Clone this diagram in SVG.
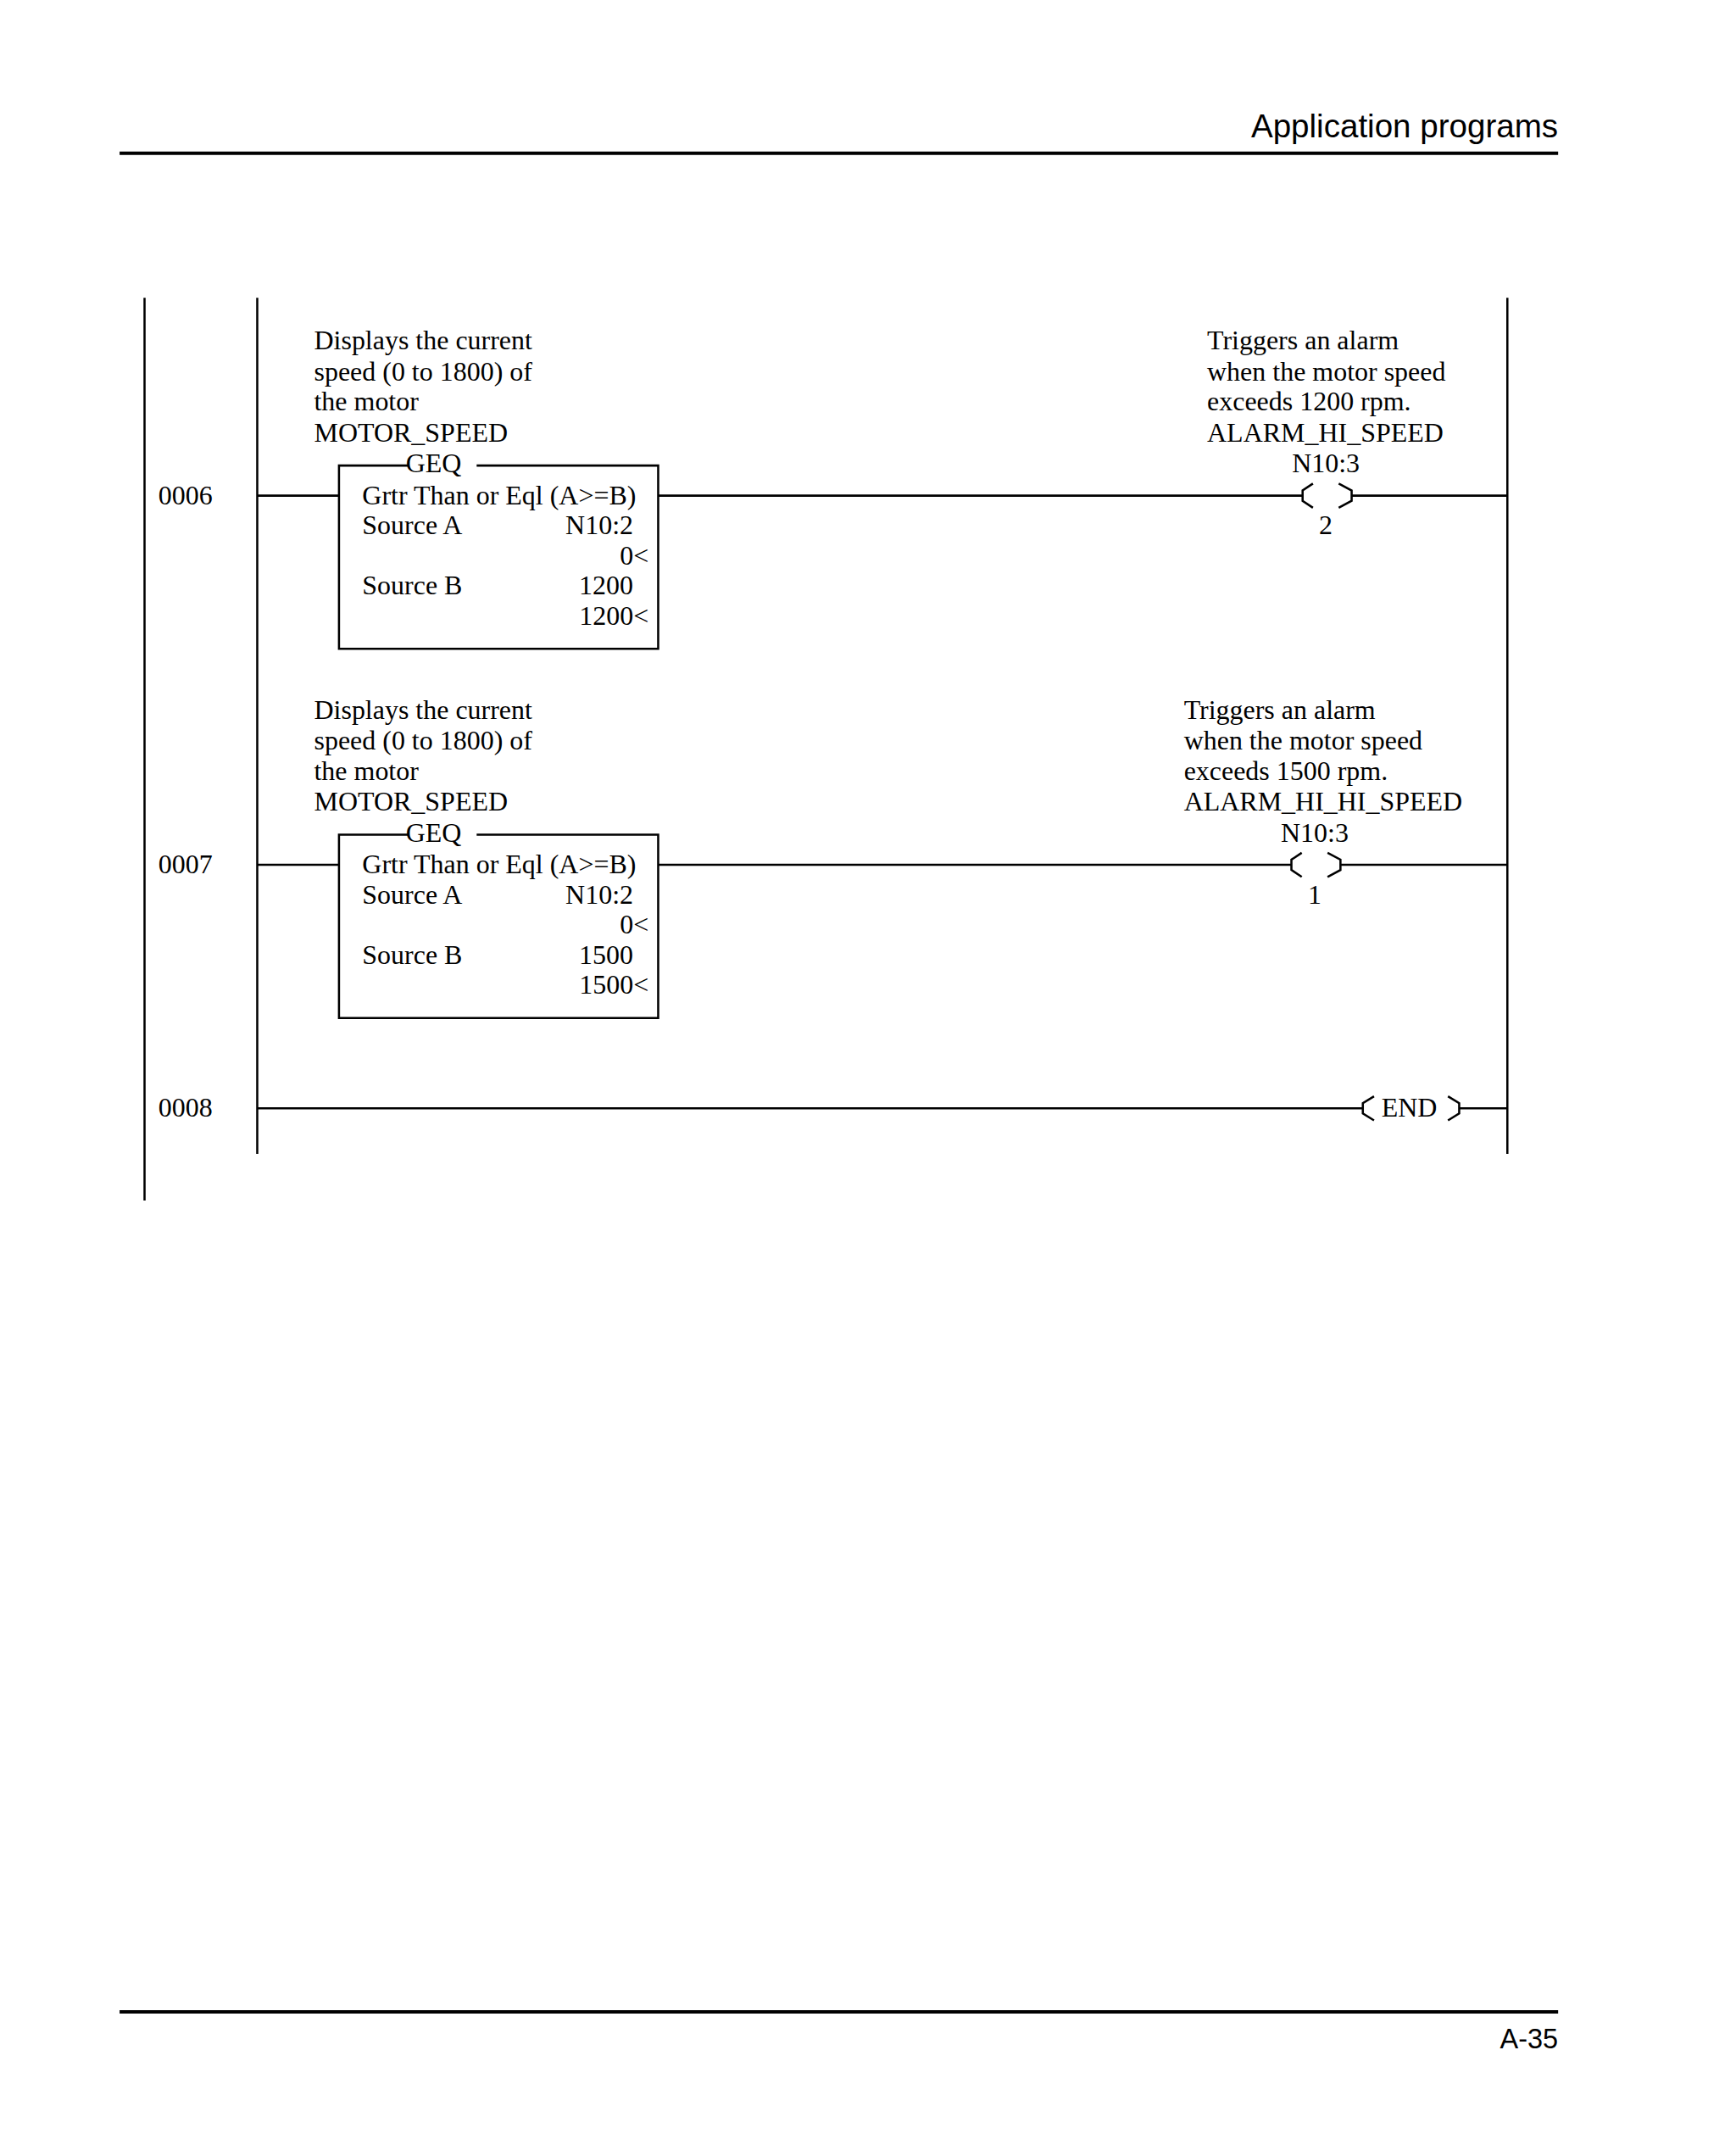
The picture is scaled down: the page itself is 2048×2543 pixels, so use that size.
<svg xmlns="http://www.w3.org/2000/svg" width="2048" height="2543" viewBox="0 0 2048 2543">
<style>
.h{font-family:"Liberation Sans",Arial,sans-serif;font-size:38px;fill:#000}
.t{font-family:"Liberation Serif","Times New Roman",serif;font-size:31.5px;fill:#000}
.m{text-anchor:middle}.e{text-anchor:end}
.w{stroke:#000;stroke-width:2.5;fill:none}
.r{stroke:#000;stroke-width:2.5;fill:none}
</style>
<rect width="2048" height="2543" fill="#fff"/>
<g transform="scale(1.015)">
<g id="header"><text class="h e" x="1811" y="160">Application programs</text><line x1="139" y1="178" x2="1811" y2="178" stroke="#000" stroke-width="4"/></g>
<g id="footer"><line x1="139" y1="2338" x2="1811" y2="2338" stroke="#000" stroke-width="4"/><text class="h e" x="1811" y="2380" style="font-size:32px">A-35</text></g>
<g id="rails"><line class="r" x1="168" y1="346" x2="168" y2="1395"/><line class="r" x1="299" y1="346" x2="299" y2="1341"/><line class="r" x1="1752" y1="346" x2="1752" y2="1341"/></g>
<g id="connectors">
<line class="w" x1="299" y1="576" x2="394" y2="576"/><line class="w" x1="765" y1="576" x2="1514" y2="576"/><line class="w" x1="1571" y1="576" x2="1752" y2="576"/>
<line class="w" x1="299" y1="1005" x2="394" y2="1005"/><line class="w" x1="765" y1="1005" x2="1501" y2="1005"/><line class="w" x1="1558" y1="1005" x2="1752" y2="1005"/>
<line class="w" x1="299" y1="1288" x2="1584" y2="1288"/><line class="w" x1="1696" y1="1288" x2="1752" y2="1288"/>
</g>
<g id="rung0006">
<text class="t" x="184" y="586">0006</text>
<text class="t" x="365" y="406">Displays the current</text><text class="t" x="365" y="442">speed (0 to 1800) of</text><text class="t" x="365" y="477">the motor</text><text class="t" x="365" y="513">MOTOR_SPEED</text>
<g id="geq1"><path class="w" d="M474,541 H394 V754 H765 V541 H554"/><text class="t m" x="504" y="549">GEQ</text>
<text class="t" x="421" y="586">Grtr Than or Eql (A&gt;=B)</text><text class="t" x="421" y="621">Source A</text><text class="t e" x="736" y="621">N10:2</text><text class="t e" x="754" y="656">0&lt;</text><text class="t" x="421" y="691">Source B</text><text class="t e" x="736" y="691">1200</text><text class="t e" x="754" y="726">1200&lt;</text></g>
<text class="t" x="1403" y="406">Triggers an alarm</text><text class="t" x="1403" y="442">when the motor speed</text><text class="t" x="1403" y="477">exceeds 1200 rpm.</text><text class="t" x="1403" y="513">ALARM_HI_SPEED</text>
<g id="coil1"><text class="t m" x="1541" y="549">N10:3</text><path class="w" d="M1526,562 L1514,570 V582 L1526,590 M1556,562 L1571,570 V582 L1556,590"/><text class="t m" x="1541" y="621">2</text></g>
</g>
<g id="rung0007">
<text class="t" x="184" y="1015">0007</text>
<text class="t" x="365" y="835">Displays the current</text><text class="t" x="365" y="871">speed (0 to 1800) of</text><text class="t" x="365" y="906">the motor</text><text class="t" x="365" y="942">MOTOR_SPEED</text>
<g id="geq2"><path class="w" d="M474,970 H394 V1183 H765 V970 H554"/><text class="t m" x="504" y="978">GEQ</text>
<text class="t" x="421" y="1015">Grtr Than or Eql (A&gt;=B)</text><text class="t" x="421" y="1050">Source A</text><text class="t e" x="736" y="1050">N10:2</text><text class="t e" x="754" y="1085">0&lt;</text><text class="t" x="421" y="1120">Source B</text><text class="t e" x="736" y="1120">1500</text><text class="t e" x="754" y="1155">1500&lt;</text></g>
<text class="t" x="1376" y="835">Triggers an alarm</text><text class="t" x="1376" y="871">when the motor speed</text><text class="t" x="1376" y="906">exceeds 1500 rpm.</text><text class="t" x="1376" y="942">ALARM_HI_HI_SPEED</text>
<g id="coil2"><text class="t m" x="1528" y="978">N10:3</text><path class="w" d="M1513,991 L1501,999 V1011 L1513,1019 M1543,991 L1558,999 V1011 L1543,1019"/><text class="t m" x="1528" y="1050">1</text></g>
</g>
<g id="rung0008">
<text class="t" x="184" y="1298">0008</text>
<g id="end"><path class="w" d="M1597,1274 L1584,1282 V1294 L1597,1302 M1683,1274 L1696,1282 V1294 L1683,1302"/><text class="t m" x="1638" y="1298">END</text></g>
</g>
</g>
</svg>
